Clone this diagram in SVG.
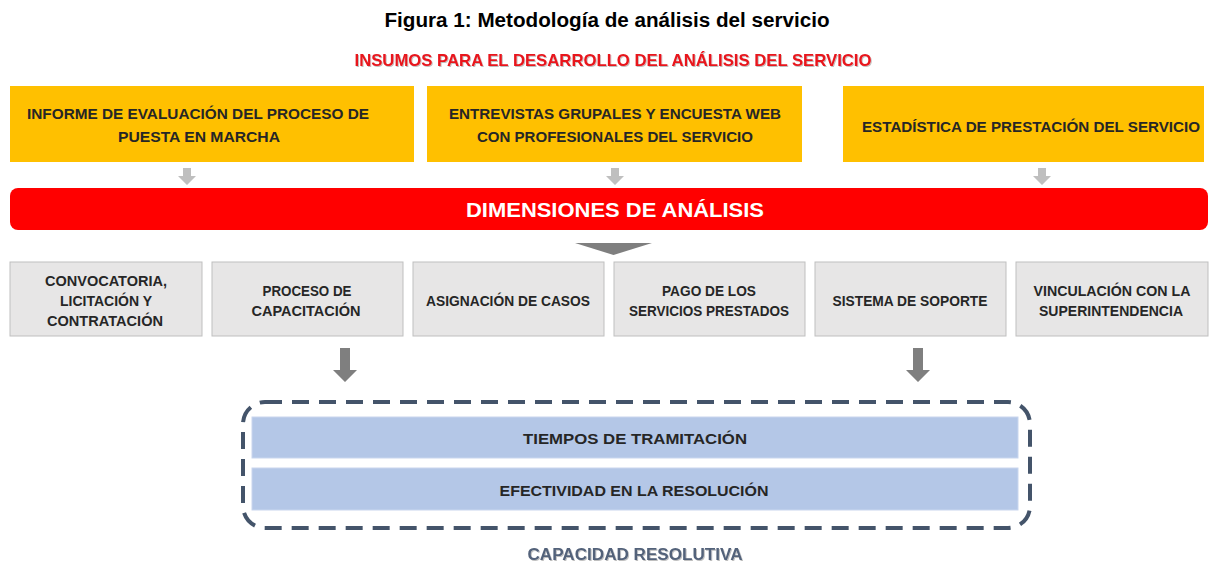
<svg xmlns="http://www.w3.org/2000/svg" width="1212" height="564" viewBox="0 0 1212 564">
<defs>
<style>
text{font-family:"Liberation Sans",Arial,sans-serif;font-weight:bold;text-anchor:middle}
.t{font-size:15.5px;fill:#262626}
.yb{fill:#ffc000}
.gb{fill:#e7e6e6;stroke:#bfbfbf;stroke-width:1}
.bb{fill:#b4c7e7;stroke:#c9d6ee;stroke-width:1}
.la{fill:#bfbfbf}
.da{fill:#7f7f7f}
</style>
<filter id="sh" x="-5%" y="-20%" width="110%" height="150%"><feDropShadow dx="1" dy="1" stdDeviation="0.6" flood-color="#000" flood-opacity="0.25"/></filter>
</defs>
<rect width="1212" height="564" fill="#fff"/>
<text x="607" y="27" font-size="20" fill="#000" textLength="445" lengthAdjust="spacingAndGlyphs">Figura 1: Metodología de análisis del servicio</text>
<text x="613" y="66" font-size="17" fill="#e8141c" textLength="517" lengthAdjust="spacingAndGlyphs" filter="url(#sh)">INSUMOS PARA EL DESARROLLO DEL ANÁLISIS DEL SERVICIO</text>

<g id="insumo1"><rect class="yb" x="10" y="86" width="404" height="76"/>
<text class="t" x="198" y="119" textLength="342" lengthAdjust="spacingAndGlyphs">INFORME DE EVALUACIÓN DEL PROCESO DE</text>
<text class="t" x="199" y="142" textLength="162" lengthAdjust="spacingAndGlyphs">PUESTA EN MARCHA</text></g>
<g id="insumo2"><rect class="yb" x="427" y="86" width="375" height="76"/>
<text class="t" x="615" y="119" textLength="332" lengthAdjust="spacingAndGlyphs">ENTREVISTAS GRUPALES Y ENCUESTA WEB</text>
<text class="t" x="615" y="142" textLength="276" lengthAdjust="spacingAndGlyphs">CON PROFESIONALES DEL SERVICIO</text></g>
<g id="insumo3"><rect class="yb" x="843" y="86" width="361" height="76"/>
<text class="t" x="1031" y="132" textLength="338" lengthAdjust="spacingAndGlyphs">ESTADÍSTICA DE PRESTACIÓN DEL SERVICIO</text></g>

<g id="dimensiones"><rect x="10" y="188" width="1198" height="42" rx="8" fill="#ff0000"/>
<text x="615" y="217" font-size="21" fill="#fff" textLength="298" lengthAdjust="spacingAndGlyphs">DIMENSIONES DE ANÁLISIS</text></g>

<g id="d1"><rect class="gb" x="10" y="262" width="192" height="74"/>
<text class="t" x="106" y="286" textLength="122" lengthAdjust="spacingAndGlyphs">CONVOCATORIA,</text>
<text class="t" x="106" y="306" textLength="92" lengthAdjust="spacingAndGlyphs">LICITACIÓN Y</text>
<text class="t" x="105" y="326" textLength="116" lengthAdjust="spacingAndGlyphs">CONTRATACIÓN</text></g>
<g id="d2"><rect class="gb" x="212" y="262" width="191" height="74"/>
<text class="t" x="307" y="296" textLength="89" lengthAdjust="spacingAndGlyphs">PROCESO DE</text>
<text class="t" x="306" y="316" textLength="109" lengthAdjust="spacingAndGlyphs">CAPACITACIÓN</text></g>
<g id="d3"><rect class="gb" x="413" y="262" width="191" height="74"/>
<text class="t" x="508" y="306" textLength="164" lengthAdjust="spacingAndGlyphs">ASIGNACIÓN DE CASOS</text></g>
<g id="d4"><rect class="gb" x="614" y="262" width="191" height="74"/>
<text class="t" x="709" y="296" textLength="94" lengthAdjust="spacingAndGlyphs">PAGO DE LOS</text>
<text class="t" x="709" y="316" textLength="160" lengthAdjust="spacingAndGlyphs">SERVICIOS PRESTADOS</text></g>
<g id="d5"><rect class="gb" x="815" y="262" width="191" height="74"/>
<text class="t" x="910" y="306" textLength="155" lengthAdjust="spacingAndGlyphs">SISTEMA DE SOPORTE</text></g>
<g id="d6"><rect class="gb" x="1016" y="262" width="192" height="74"/>
<text class="t" x="1112" y="296" textLength="157" lengthAdjust="spacingAndGlyphs">VINCULACIÓN CON LA</text>
<text class="t" x="1111" y="316" textLength="144" lengthAdjust="spacingAndGlyphs">SUPERINTENDENCIA</text></g>

<g id="capacidad">
<rect x="243" y="402" width="787" height="126" rx="22" fill="none" stroke="#44546a" stroke-width="4" stroke-dasharray="17 10"/>
<rect class="bb" x="252" y="417" width="766" height="41"/>
<text class="t" x="635" y="444" textLength="224" lengthAdjust="spacingAndGlyphs">TIEMPOS DE TRAMITACIÓN</text>
<rect class="bb" x="252" y="468" width="766" height="42"/>
<text class="t" x="634" y="496" textLength="269" lengthAdjust="spacingAndGlyphs">EFECTIVIDAD EN LA RESOLUCIÓN</text>
<text x="635" y="560" font-size="16" fill="#53627a" textLength="215" lengthAdjust="spacingAndGlyphs" filter="url(#sh)">CAPACIDAD RESOLUTIVA</text>
</g>

<g id="connectors">
<path class="la" d="M183 168h8v8h5l-9 9l-9-9h5z"/>
<path class="la" d="M611 168h8v8h5l-9 9l-9-9h5z"/>
<path class="la" d="M1038 168h8v8h5l-9 9l-9-9h5z"/>
<path class="da" d="M575 243h77l-38.5 12z"/>
<path class="da" d="M340 348h10v22h7l-12 12l-12-12h7z"/>
<path class="da" d="M913 348h10v22h7l-12 12l-12-12h7z"/>
</g>
</svg>
